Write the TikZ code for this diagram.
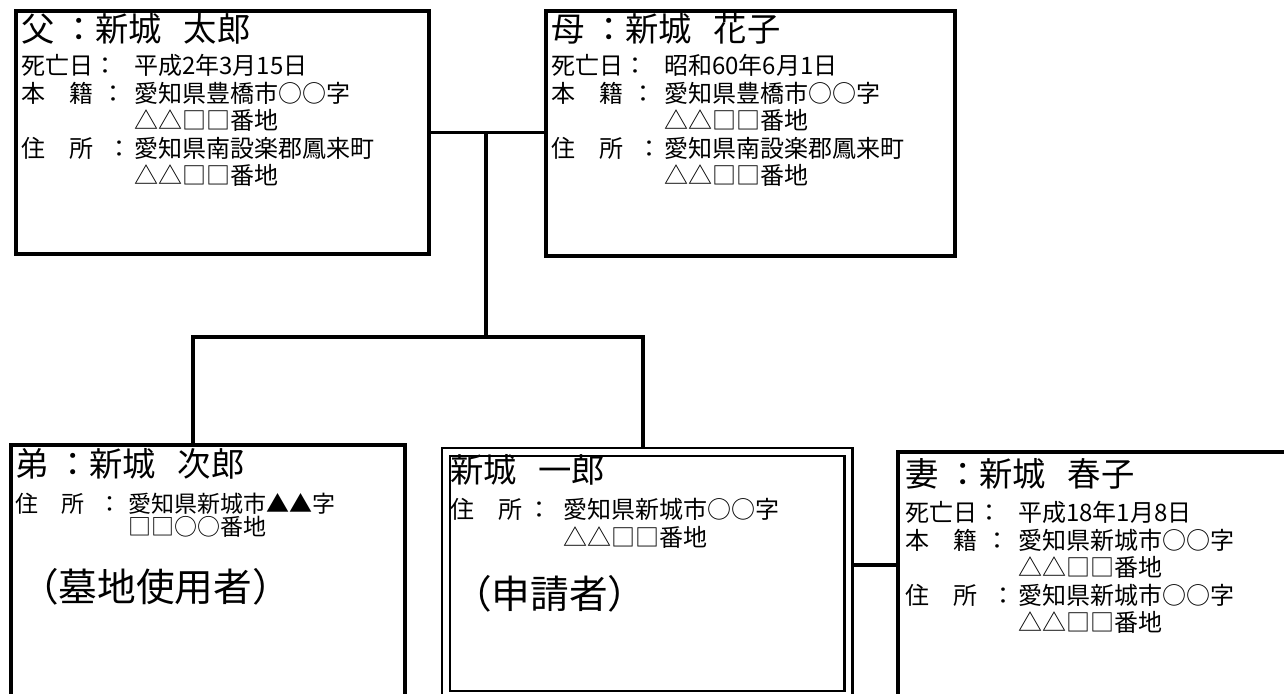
\documentclass[tikz,border=0pt]{standalone}
\usepackage{fontspec}
\usetikzlibrary{fit}
\setmainfont{Noto Sans CJK JP}

% label column of the info lines
\newcommand{\lbl}[1]{\makebox[84.75pt][l]{#1}}
\newcommand{\nsp}{\hspace{0.65em}}

\tikzset{
  famBox/.style={draw, line width=2.3pt, inner sep=0pt},
  famLine/.style={line width=2.3pt},
  nameTxt/.style={anchor=north west, inner sep=0.75pt, font=\fontsize{25}{29}\selectfont},
  infoTxt/.style={anchor=north west, inner sep=0.75pt, align=left, font=\fontsize{18}{20.7}\selectfont},
  infoTight/.style={infoTxt, font=\fontsize{17.25}{17.4}\selectfont},
  roleTxt/.style={anchor=north west, inner sep=0.75pt, font=\fontsize{29}{33}\selectfont},
}

\begin{document}
\begin{tikzpicture}[x=0.75pt,y=0.75pt,yscale=-1,xscale=1]
\useasboundingbox (0,0) rectangle (1284,693);
\clip (0,0) rectangle (1284,693);

% connectors first, the boxes cover their ends
\coordinate (fork) at (486,337);
\coordinate (barL) at (193,337);
\coordinate (barR) at (643,337);
\coordinate (tie) at (875,565);

%Shape: parents
\node [famBox, fit={(16,11) (429,254)}] (father) {};
\node [famBox, fit={(546,11) (955,256)}] (mother) {};

% Connection
\draw [famLine] (father.east) -- (father.east -| mother.west) ;
\draw [famLine] (fork |- father.east) -- (fork) ;
\draw [famLine] (barL |- 0,445) -- (barL) -- (barR) -- (barR |- 0,452) ;
\draw [famLine] (848,0 |- tie) -- (898,0 |- tie) ;

%Shape: children
\node [famBox, fit={(11,445) (405,697)}] (jiro) {};
\node [famBox, double, double distance=4pt, line width=2pt, fit={(446,452) (848.5,695)}] (ichiro) {};
\node [famBox, fit={(898,452) (1292,697)}] (wife) {};

% Text Node
\node [nameTxt] (faName) at (20,12) {父 ：新城\nsp 太郎};
\node [infoTxt] (faInfo) at (20,53) {\lbl{死亡日：}平成2年3月15日\\
  \lbl{本　籍\hspace{6pt}：}愛知県豊橋市○○字\\
  \lbl{}△△□□番地\\
  \lbl{住　所\hspace{10.5pt}：}愛知県南設楽郡鳳来町\\
  \lbl{}△△□□番地};
% Text Node
\node [nameTxt] (moName) at (550,12) {母 ：新城\nsp 花子};
\node [infoTxt] (moInfo) at (550,53) {\lbl{死亡日：}昭和60年6月1日\\
  \lbl{本　籍\hspace{6pt}：}愛知県豊橋市○○字\\
  \lbl{}△△□□番地\\
  \lbl{住　所\hspace{10.5pt}：}愛知県南設楽郡鳳来町\\
  \lbl{}△△□□番地};
% Text Node
\node [nameTxt] (jiName) at (14,447) {弟 ：新城\nsp 次郎};
\node [infoTight] (jiInfo) at (14,492) {\lbl{住　所\hspace{10.5pt}：}愛知県新城市▲▲字\\
  \lbl{}□□○○番地};
\node [roleTxt] (jiRole) at (19,567) {（墓地使用者）};
% Text Node
\node [nameTxt] (ichName) at (449,453) {新城\nsp 一郎};
\node [infoTxt] (ichInfo) at (449,497) {\lbl{住　所\hspace{4pt}：}愛知県新城市○○字\\
  \lbl{}△△□□番地};
\node [roleTxt] (ichRole) at (452,574) {（申請者）};
% Text Node
\node [nameTxt] (wiName) at (904,457) {妻 ：新城\nsp 春子};
\node [infoTxt] (wiInfo) at (904,500) {\lbl{死亡日：}平成18年1月8日\\
  \lbl{本　籍\hspace{6pt}：}愛知県新城市○○字\\
  \lbl{}△△□□番地\\
  \lbl{住　所\hspace{10.5pt}：}愛知県新城市○○字\\
  \lbl{}△△□□番地};

\end{tikzpicture}
\end{document}
